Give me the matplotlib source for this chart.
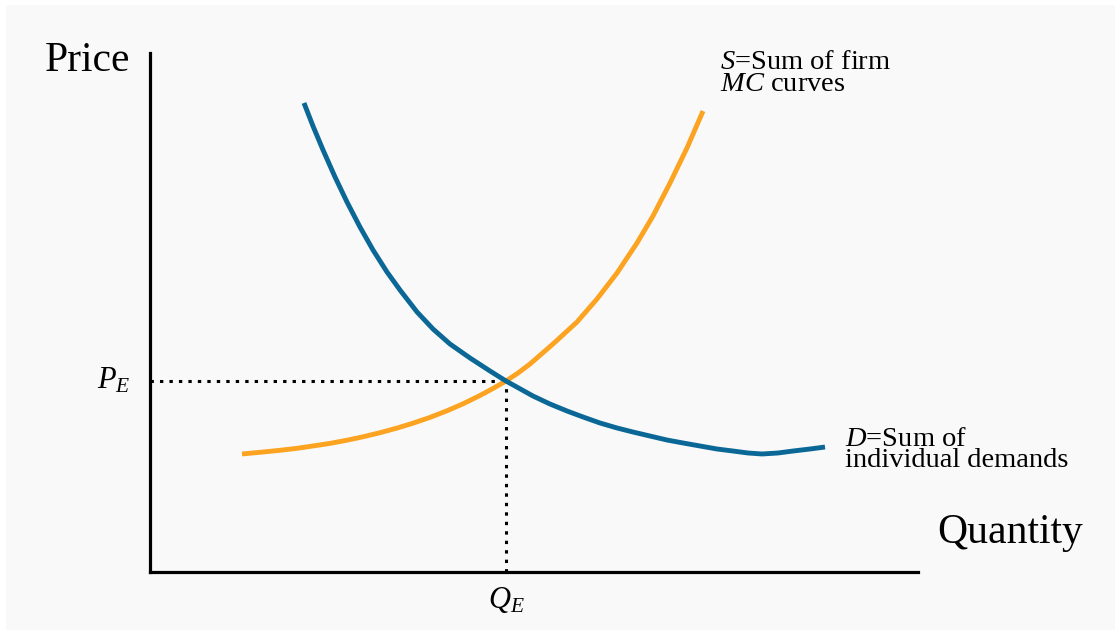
import matplotlib
matplotlib.use("Agg")
import matplotlib.pyplot as plt
from matplotlib.patches import Rectangle

plt.rcParams['font.family'] = ['Liberation Serif', 'DejaVu Serif']
plt.rcParams['mathtext.fontset'] = 'custom'
plt.rcParams['mathtext.rm'] = 'Liberation Serif'
plt.rcParams['mathtext.it'] = 'Liberation Serif:italic'

# Demand curve (quantity, price)
demand_q = [2.005, 2.122, 2.253, 2.409, 2.565, 2.734, 2.904, 3.086, 3.255, 3.477,
            3.685, 3.906, 4.167, 4.427, 4.635, 4.987, 5.208, 5.430, 5.638, 5.859,
            6.081, 6.289, 6.510, 6.732, 6.940, 7.161, 7.383, 7.591, 7.786, 7.969,
            8.177, 8.372, 8.594, 8.789]
demand_p = [9.037, 8.593, 8.131, 7.611, 7.129, 6.647, 6.204, 5.780, 5.434, 5.010,
            4.682, 4.393, 4.123, 3.873, 3.680, 3.391, 3.237, 3.102, 2.987, 2.871,
            2.775, 2.697, 2.620, 2.543, 2.486, 2.428, 2.370, 2.331, 2.293, 2.274,
            2.293, 2.331, 2.370, 2.408]

# Supply curve (quantity, price)
supply_q = [1.198, 1.445, 1.693, 1.914, 2.122, 2.344, 2.565, 2.773, 2.995, 3.216,
            3.424, 3.646, 3.867, 4.076, 4.297, 4.466, 4.635, 4.792, 4.948, 5.247,
            5.560, 5.820, 6.081, 6.341, 6.549, 6.771, 6.992, 7.201]
supply_p = [2.274, 2.308, 2.345, 2.383, 2.428, 2.478, 2.539, 2.605, 2.684, 2.773,
            2.867, 2.979, 3.106, 3.241, 3.401, 3.536, 3.680, 3.834, 4.008, 4.393,
            4.817, 5.260, 5.761, 6.339, 6.859, 7.495, 8.170, 8.882]

q_eq = 4.635
p_eq = 3.680

blue = '#0b6896'
orange = '#fca321'

fig = plt.figure(figsize=(11.15, 6.39), dpi=100, facecolor='white')
fig.patches.append(Rectangle((6 / 1115, 9 / 639), 1 - 6 / 1115, 1 - 14 / 639,
                             transform=fig.transFigure, facecolor='#f9f9f9',
                             edgecolor='none', zorder=-10))

ax = fig.add_axes([150 / 1115, 67 / 639, 768 / 1115, 519 / 639])
ax.set_facecolor('none')
ax.set_xlim(0, 10)
ax.set_ylim(0, 10)
for s in ['top', 'right']:
    ax.spines[s].set_visible(False)
for s in ['left', 'bottom']:
    ax.spines[s].set_linewidth(2.3)
    ax.spines[s].set_color('black')
ax.set_xticks([])
ax.set_yticks([])

ax.plot(demand_q, demand_p, color=blue, lw=3.5, solid_capstyle='butt',
        solid_joinstyle='round', zorder=3)
ax.plot(supply_q, supply_p, color=orange, lw=3.5, solid_capstyle='butt',
        solid_joinstyle='round', zorder=2)

ax.plot([0, q_eq], [p_eq, p_eq], color='black', lw=2.2, linestyle=(0, (1.1, 2.0)), zorder=1)
ax.plot([q_eq, q_eq], [0, p_eq], color='black', lw=2.2, linestyle=(0, (1.1, 2.0)), zorder=1)

ax.text(-1.37, 9.65, 'Price', fontsize=30, ha='left', va='baseline', clip_on=False)
ax.text(10.25, 0.56, 'Quantity', fontsize=30, ha='left', va='baseline', clip_on=False)

ax.text(7.42, 9.27, '$S$=Sum of firm\n$MC$ curves', fontsize=20.5, ha='left',
        va='baseline', linespacing=0.82, clip_on=False)

ax.text(9.05, 2.02, '$D$=Sum of\nindividual demands', fontsize=20.5, ha='left',
        va='baseline', linespacing=0.82, clip_on=False)

ax.text(-0.26, 3.53, r'$P_E$', fontsize=22, ha='right', va='baseline', clip_on=False)
ax.text(q_eq, -0.69, r'$Q_E$', fontsize=22, ha='center', va='baseline', clip_on=False)

fig.savefig('out.png', dpi=100, facecolor=fig.get_facecolor())
